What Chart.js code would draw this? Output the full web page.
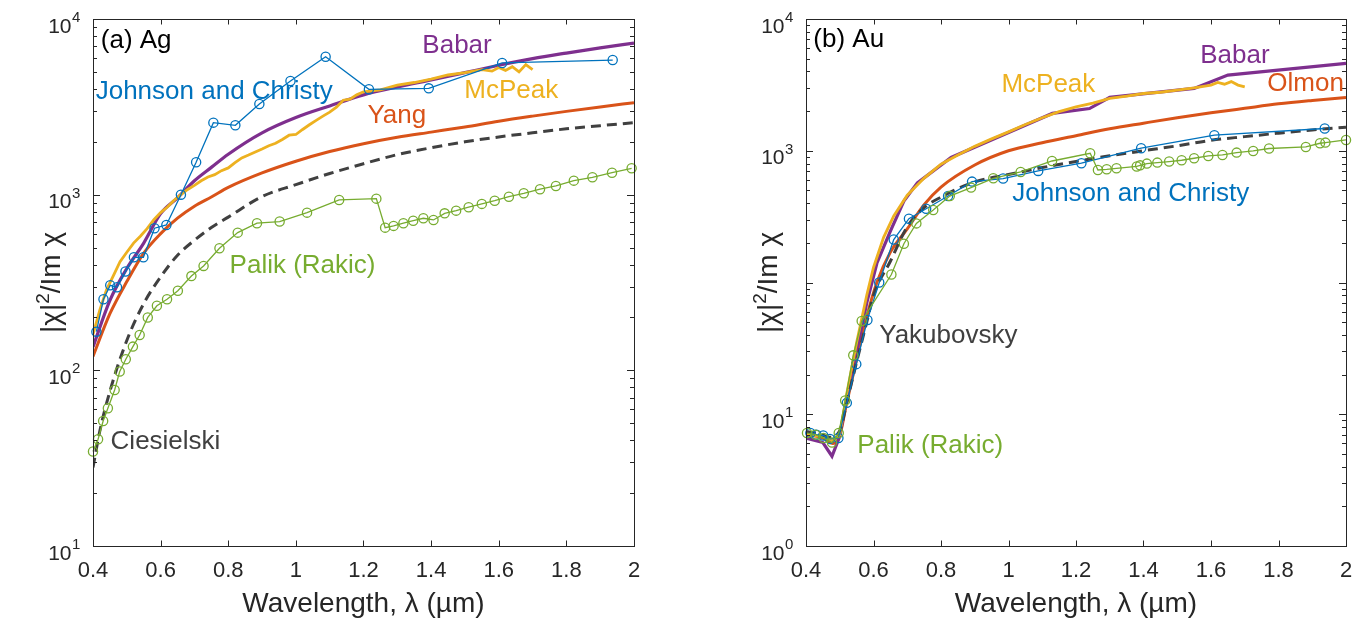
<!DOCTYPE html>
<html>
<head>
<meta charset="utf-8">
<script src="https://cdn.jsdelivr.net/npm/chart.js@4"></script>
<style>
  html, body { margin: 0; padding: 0; background: #fff; }
  #wrap { position: relative; width: 1364px; height: 618px; }
  canvas { position: absolute; top: 0; }
  #ag { left: 0; }
  #au { left: 682px; }
</style>
</head>
<body>
<div id="wrap">
  <canvas id="ag" width="682" height="618"></canvas>
  <canvas id="au" width="682" height="618"></canvas>
</div>
<script>
// wavelength ticks (um) and log decades
const xTicks = [0.4, 0.6, 0.8, 1, 1.2, 1.4, 1.6, 1.8, 2];
const agDecades = [10, 100, 1000, 10000];
const auDecades = [1, 10, 100, 1000, 10000];
// decades whose label sits under the y title in panel (b)
const auHiddenLabels = [100];

// ---- (a) Ag ----
const agJcX = [0.41, 0.431, 0.451, 0.471, 0.496, 0.521, 0.549, 0.582, 0.617, 0.660, 0.705, 0.756, 0.821, 0.892, 0.984, 1.088, 1.216, 1.393, 1.610, 1.937];
const agJcY = [166, 254, 305, 297, 365, 440, 440, 644, 672, 1000, 1529, 2570, 2483, 3283, 4437, 6100, 3980, 4030, 5620, 5840];

const agPalikX = [0.400, 0.415, 0.430, 0.444, 0.464, 0.479, 0.497, 0.518, 0.538, 0.562, 0.589, 0.619, 0.651, 0.691, 0.727, 0.774, 0.828, 0.885, 0.952, 1.033, 1.128, 1.238, 1.264, 1.289, 1.318, 1.347, 1.377, 1.407, 1.440, 1.474, 1.511, 1.550, 1.588, 1.630, 1.674, 1.722, 1.769, 1.822, 1.877, 1.935, 1.993];
const agPalikY = [34.5, 40.5, 51.5, 60.8, 77.3, 98.4, 115.6, 136.5, 159, 200, 233, 254, 284, 344, 393, 495, 608, 688, 703, 790, 933, 949, 649, 664, 688, 711, 734, 718, 783, 811, 848, 886, 924, 974, 1018, 1074, 1121, 1202, 1256, 1334, 1413];

const agBabarX = [0.40, 0.45, 0.50, 0.55, 0.60, 0.65, 0.70, 0.75, 0.80, 0.90, 1.00, 1.10, 1.20, 1.30, 1.40, 1.50, 1.60, 1.70, 1.80, 1.90, 2.00];
const agBabarY = [136, 250, 380, 530, 780, 960, 1200, 1430, 1700, 2250, 2750, 3200, 3700, 4100, 4500, 4950, 5450, 5950, 6400, 6850, 7300];

const agYangX = [0.40, 0.45, 0.50, 0.55, 0.60, 0.65, 0.70, 0.75, 0.80, 0.90, 1.00, 1.10, 1.20, 1.30, 1.40, 1.50, 1.60, 1.70, 1.80, 1.90, 2.00];
const agYangY = [120, 210, 320, 465, 600, 735, 860, 970, 1100, 1330, 1550, 1760, 1950, 2120, 2270, 2430, 2620, 2800, 2980, 3160, 3340];

const agCiesX = [0.40, 0.42, 0.45, 0.50, 0.55, 0.60, 0.65, 0.70, 0.75, 0.80, 0.90, 1.00, 1.10, 1.20, 1.30, 1.40, 1.50, 1.60, 1.70, 1.80, 1.90, 2.00];
const agCiesY = [28, 45, 76, 148, 240, 340, 452, 550, 650, 745, 975, 1140, 1320, 1500, 1690, 1850, 2000, 2130, 2250, 2370, 2470, 2570];

const agMcPeakX = [0.40, 0.42, 0.44, 0.46, 0.48, 0.50, 0.52, 0.54, 0.56, 0.58, 0.60, 0.62, 0.64, 0.66, 0.68, 0.70, 0.72, 0.74, 0.76, 0.78, 0.80, 0.82, 0.84, 0.86, 0.88, 0.90, 0.92, 0.94, 0.96, 0.98, 1.00, 1.02, 1.04, 1.06, 1.08, 1.10, 1.12, 1.14, 1.16, 1.18, 1.20, 1.25, 1.30, 1.35, 1.40, 1.45, 1.50, 1.55, 1.58, 1.60, 1.62, 1.64, 1.66, 1.68, 1.70];
const agMcPeakY = [160, 220, 287, 345, 415, 470, 530, 580, 640, 720, 790, 850, 930, 1000, 1070, 1130, 1200, 1260, 1300, 1370, 1420, 1520, 1620, 1680, 1750, 1820, 1900, 1960, 2060, 2180, 2200, 2350, 2500, 2650, 2800, 2950, 3150, 3450, 3500, 3700, 3850, 3950, 4200, 4350, 4550, 4800, 4950, 5150, 5050, 5300, 5100, 5350, 5000, 5500, 5150];

// ---- (b) Au ----
const auJcX = [0.413, 0.431, 0.451, 0.471, 0.496, 0.521, 0.549, 0.582, 0.617, 0.660, 0.705, 0.756, 0.821, 0.892, 0.984, 1.088, 1.216, 1.393, 1.610, 1.937];
const auJcY = [7.2, 7.0, 6.9, 6.5, 6.6, 12.2, 24, 52, 100, 212, 305, 363, 453, 583, 615, 703, 804, 1045, 1313, 1475];

const auPalikX = [0.403, 0.428, 0.452, 0.477, 0.497, 0.516, 0.540, 0.565, 0.653, 0.690, 0.727, 0.777, 0.826, 0.889, 0.955, 1.036, 1.129, 1.242, 1.265, 1.291, 1.320, 1.380, 1.390, 1.410, 1.441, 1.476, 1.513, 1.550, 1.592, 1.634, 1.676, 1.725, 1.772, 1.881, 1.923, 1.939, 2.000];
const auPalikY = [7.2, 7.0, 6.6, 6.1, 7.2, 12.7, 28, 51, 115, 197, 281, 355, 453, 525, 618, 690, 836, 957, 715, 723, 736, 760, 775, 799, 813, 828, 847, 877, 913, 929, 968, 996, 1040, 1069, 1140, 1153, 1208];

const auBabarX = [0.40, 0.45, 0.477, 0.50, 0.52, 0.55, 0.58, 0.61, 0.65, 0.69, 0.73, 0.83, 1.13, 1.24, 1.30, 1.55, 1.65, 2.00];
const auBabarY = [6.6, 6.1, 4.8, 6.8, 13, 30, 70, 140, 245, 415, 570, 890, 1920, 2090, 2540, 2970, 3750, 4600];

const auMcPeakX = [0.40, 0.45, 0.48, 0.50, 0.52, 0.55, 0.58, 0.60, 0.63, 0.66, 0.70, 0.75, 0.80, 0.85, 0.90, 0.95, 1.00, 1.05, 1.10, 1.15, 1.20, 1.25, 1.30, 1.35, 1.40, 1.45, 1.50, 1.55, 1.60, 1.62, 1.64, 1.66, 1.68, 1.70];
const auMcPeakY = [7.0, 6.8, 6.3, 7.0, 14, 35, 80, 130, 220, 320, 460, 620, 790, 930, 1080, 1230, 1390, 1580, 1780, 1980, 2150, 2300, 2500, 2600, 2720, 2780, 2880, 3000, 3150, 3300, 3200, 3350, 3150, 3050];

const auOlmonX = [0.40, 0.45, 0.48, 0.50, 0.52, 0.55, 0.58, 0.61, 0.65, 0.70, 0.75, 0.80, 0.90, 1.00, 1.10, 1.20, 1.30, 1.40, 1.50, 1.60, 1.70, 1.80, 1.90, 2.00];
const auOlmonY = [7.0, 6.6, 6.0, 6.9, 12, 26, 55, 100, 170, 255, 390, 530, 780, 1000, 1150, 1300, 1470, 1620, 1780, 1940, 2100, 2270, 2410, 2540];

const auYakX = [0.40, 0.44, 0.47, 0.50, 0.52, 0.55, 0.58, 0.60, 0.65, 0.70, 0.75, 0.80, 0.90, 1.00, 1.10, 1.20, 1.30, 1.40, 1.50, 1.60, 1.70, 1.80, 1.90, 2.00];
const auYakY = [7.4, 7.1, 6.7, 7.5, 12, 25, 50, 80, 145, 265, 370, 445, 580, 660, 745, 830, 915, 1000, 1090, 1200, 1280, 1360, 1440, 1510];

const BLUE = '#0072BD', RED = '#D95319', YELLOW = '#EDB120', PURPLE = '#7E2F8E', GREEN = '#77AC30', GREY = '#404040';
const FONT = '"Liberation Sans", Arial, sans-serif';

const pts = (xs, ys) => xs.map((x, i) => ({ x, y: ys[i] }));

const curve = (xs, ys, color, extra) => Object.assign({
  data: pts(xs, ys), borderColor: color, borderWidth: 3, pointRadius: 0, fill: false
}, extra);

const markers = (xs, ys, color) => ({
  data: pts(xs, ys), borderColor: color, borderWidth: 1.3,
  pointRadius: 4.6, pointBorderWidth: 1.3, pointStyle: 'circle',
  pointBackgroundColor: 'rgba(0,0,0,0)', pointBorderColor: color, clip: false, fill: false
});

// y title |chi|^2/Im chi, drawn in pieces so the 2 sits raised
function drawYTitle(ctx, cx, cy) {
  const big = '28px ' + FONT, small = '19px ' + FONT;
  ctx.save();
  ctx.translate(cx, cy);
  ctx.rotate(-Math.PI / 2);
  ctx.textAlign = 'left';
  ctx.textBaseline = 'alphabetic';
  ctx.font = big;
  const w1 = ctx.measureText('|\u03C7|').width;
  const w3 = ctx.measureText('/Im \u03C7').width;
  ctx.font = small;
  const w2 = ctx.measureText('2').width;
  let px = -(w1 + w2 + w3) / 2;
  const base = 9;
  ctx.font = big;
  ctx.fillText('|\u03C7|', px, base); px += w1;
  ctx.font = small;
  ctx.fillText('2', px, base - 11); px += w2;
  ctx.font = big;
  ctx.fillText('/Im \u03C7', px, base);
  ctx.restore();
}

// MATLAB-style box: inward ticks, 10^n labels, titles and curve names
const frame = {
  id: 'frame',
  afterDraw(chart, args, opts) {
    const { ctx, chartArea: a } = chart;
    const x = chart.scales.x, y = chart.scales.y;
    ctx.save();
    ctx.strokeStyle = '#262626';
    ctx.fillStyle = '#262626';
    ctx.lineWidth = 1;
    ctx.strokeRect(Math.round(a.left) + 0.5, Math.round(a.top) + 0.5, Math.round(a.right - a.left), Math.round(a.bottom - a.top));

    ctx.beginPath();
    xTicks.forEach(v => {
      const px = Math.round(x.getPixelForValue(v)) + 0.5;
      ctx.moveTo(px, a.bottom); ctx.lineTo(px, a.bottom - 5.5);
      ctx.moveTo(px, a.top); ctx.lineTo(px, a.top + 5.5);
    });
    const d = opts.decades;
    d.forEach((v, i) => {
      const py = Math.round(y.getPixelForValue(v)) + 0.5;
      ctx.moveTo(a.left, py); ctx.lineTo(a.left + 7, py);
      ctx.moveTo(a.right, py); ctx.lineTo(a.right - 7, py);
      if (i < d.length - 1) {
        for (let k = 2; k < 10; k++) {
          const my = Math.round(y.getPixelForValue(v * k)) + 0.5;
          ctx.moveTo(a.left, my); ctx.lineTo(a.left + 4, my);
          ctx.moveTo(a.right, my); ctx.lineTo(a.right - 4, my);
        }
      }
    });
    ctx.stroke();

    // x tick labels
    ctx.font = '22px ' + FONT;
    ctx.textAlign = 'center';
    ctx.textBaseline = 'alphabetic';
    xTicks.forEach(v => {
      ctx.fillText(String(v), x.getPixelForValue(v), a.bottom + 31);
    });

    // y tick labels as 10 with a raised exponent
    const hidden = opts.hidden || [];
    d.forEach(v => {
      if (hidden.includes(v)) return;
      const py = y.getPixelForValue(v);
      ctx.font = '21px ' + FONT;
      ctx.textAlign = 'right';
      ctx.fillText('10', a.left - 21.5, py + 13.5);
      ctx.font = '15px ' + FONT;
      ctx.textAlign = 'left';
      ctx.fillText(String(Math.round(Math.log10(v))), a.left - 21, py + 3);
    });

    // axis titles
    ctx.font = '28px ' + FONT;
    ctx.textAlign = 'center';
    ctx.fillText('Wavelength, \u03BB (\u00B5m)', (a.left + a.right) / 2, 612);
    drawYTitle(ctx, opts.yTitleX, (a.top + a.bottom) / 2);

    // curve names
    ctx.font = '26px ' + FONT;
    ctx.textAlign = 'left';
    ctx.textBaseline = 'middle';
    opts.labels.forEach(l => {
      ctx.fillStyle = l.color;
      ctx.fillText(l.text, x.getPixelForValue(l.x), y.getPixelForValue(l.y));
    });
    ctx.restore();
  }
};

const baseOptions = (ymin, padding, decades, hidden, yTitleX, labels) => ({
  responsive: false,
  animation: false,
  layout: { padding },
  plugins: {
    legend: { display: false },
    tooltip: { enabled: false },
    frame: { decades, hidden, yTitleX, labels }
  },
  scales: {
    x: { type: 'linear', min: 0.4, max: 2, display: false },
    y: { type: 'logarithmic', min: ymin, max: 10000, display: false }
  }
});

const whiteBg = {
  id: 'whiteBg',
  beforeDraw(chart) {
    const c = chart.ctx;
    c.save();
    c.fillStyle = '#fff';
    c.fillRect(0, 0, chart.width, chart.height);
    c.restore();
  }
};

new Chart(document.getElementById('ag'), {
  type: 'line',
  data: {
    datasets: [
      markers(agPalikX, agPalikY, GREEN),
      markers(agJcX, agJcY, BLUE),
      curve(agMcPeakX, agMcPeakY, YELLOW, { borderWidth: 2.8 }),
      curve(agBabarX, agBabarY, PURPLE, { borderWidth: 3.2, cubicInterpolationMode: 'monotone' }),
      curve(agYangX, agYangY, RED, { cubicInterpolationMode: 'monotone' }),
      curve(agCiesX, agCiesY, GREY, { borderDash: [10, 6], cubicInterpolationMode: 'monotone' })
    ]
  },
  options: baseOptions(10, { left: 93, right: 48, top: 19, bottom: 72 }, agDecades, [], 51, [
    { text: '(a) Ag', x: 0.423, y: 7500, color: '#000' },
    { text: 'Johnson and Christy', x: 0.408, y: 3840, color: BLUE },
    { text: 'Babar', x: 1.374, y: 7020, color: PURPLE },
    { text: 'McPeak', x: 1.498, y: 3890, color: YELLOW },
    { text: 'Yang', x: 1.2115, y: 2805, color: RED },
    { text: 'Palik (Rakic)', x: 0.804, y: 393, color: GREEN },
    { text: 'Ciesielski', x: 0.452, y: 39.1, color: GREY }
  ]),
  plugins: [whiteBg, frame]
});

new Chart(document.getElementById('au'), {
  type: 'line',
  data: {
    datasets: [
      markers(auPalikX, auPalikY, GREEN),
      markers(auJcX, auJcY, BLUE),
      curve(auYakX, auYakY, GREY, { borderDash: [10, 6], cubicInterpolationMode: 'monotone' }),
      curve(auMcPeakX, auMcPeakY, YELLOW, { borderWidth: 2.8 }),
      curve(auBabarX, auBabarY, PURPLE, { borderWidth: 3.2 }),
      curve(auOlmonX, auOlmonY, RED, { cubicInterpolationMode: 'monotone' })
    ]
  },
  options: baseOptions(1, { left: 124, right: 18, top: 19, bottom: 72 }, auDecades, auHiddenLabels, 86, [
    { text: '(b) Au', x: 0.4216, y: 6920, color: '#000' },
    { text: 'Babar', x: 1.568, y: 5230, color: PURPLE },
    { text: 'McPeak', x: 0.979, y: 3150, color: YELLOW },
    { text: 'Olmon', x: 1.767, y: 3205, color: RED },
    { text: 'Johnson and Christy', x: 1.011, y: 475, color: BLUE },
    { text: 'Yakubovsky', x: 0.617, y: 39.5, color: GREY },
    { text: 'Palik (Rakic)', x: 0.552, y: 5.76, color: GREEN }
  ]),
  plugins: [whiteBg, frame]
});
</script>
</body>
</html>
